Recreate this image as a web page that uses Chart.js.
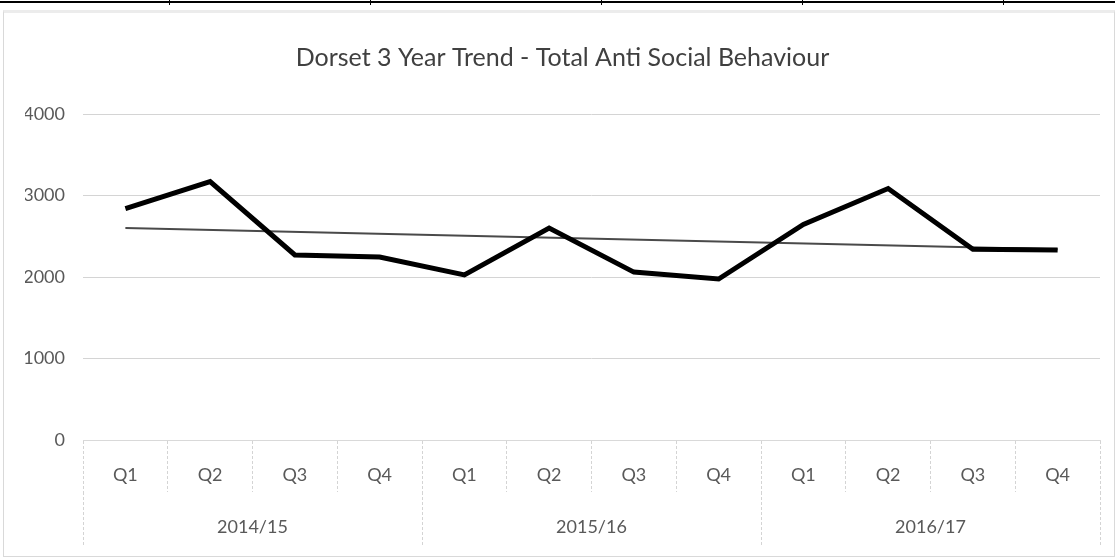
<!DOCTYPE html>
<html lang="en">
<head>
    <meta charset="UTF-8">
    <title>Dorset 3 Year Trend - Total Anti Social Behaviour</title>
    <script src="https://cdn.jsdelivr.net/npm/chart.js"></script>
    <style>
        body { margin: 0; background: #fff; width: 1115px; height: 557px; overflow: hidden; position: relative; }
        .topline { position: absolute; left: 0; top: 1px; width: 1115px; height: 2px; background: #000; }
        .tick { position: absolute; top: 0; width: 1px; height: 5px; background: #000; }
        .frame { position: absolute; left: 3px; top: 10px; width: 1110px; height: 543px; border: 1px solid #d9d9d9; border-top: 3px solid #ececec; }
        canvas { display: block; }
    </style>
</head>
<body>
    <div class="topline"></div>
    <div class="tick" style="left:169px"></div>
    <div class="tick" style="left:370px"></div>
    <div class="tick" style="left:601px"></div>
    <div class="tick" style="left:802px"></div>
    <div class="tick" style="left:1003px"></div>
    <div class="frame"><canvas id="chart" width="1110" height="543"></canvas></div>

    <script>
        // data
        const quarters = ['Q1', 'Q2', 'Q3', 'Q4', 'Q1', 'Q2', 'Q3', 'Q4', 'Q1', 'Q2', 'Q3', 'Q4'];
        const years = ['2014/15', '2015/16', '2016/17'];
        const asbTotals = [2840, 3170, 2270, 2245, 2025, 2600, 2060, 1975, 2645, 3085, 2340, 2330];
        // linear trendline: only its two ends, the library joins them
        const trendEnds = [2600, 2340];
        const yTicks = [0, 1000, 2000, 3000, 4000];

        const trendData = quarters.map(() => null);
        trendData[0] = trendEnds[0];
        trendData[trendData.length - 1] = trendEnds[1];

        const font = 'Lato, Calibri, sans-serif';
        const textCol = '#595959';
        const gridCol = '#d4d4d4';

        new Chart(document.getElementById('chart'), {
            type: 'line',
            data: {
                labels: quarters,
                datasets: [{
                    label: 'Total ASB',
                    data: asbTotals,
                    borderColor: '#000',
                    borderWidth: 5,
                    pointRadius: 0,
                    tension: 0,
                    borderJoinStyle: 'miter',
                    order: 1
                }, {
                    label: 'Linear trend',
                    data: trendData,
                    spanGaps: true,
                    borderColor: '#4a4a4a',
                    borderWidth: 2,
                    pointRadius: 0,
                    order: 2
                }]
            },
            options: {
                responsive: false,
                animation: false,
                layout: { padding: { left: 21, right: 14, top: 0, bottom: 8 } },
                plugins: {
                    legend: { display: false },
                    tooltip: { enabled: false },
                    title: {
                        display: true,
                        text: 'Dorset 3 Year Trend - Total Anti Social Behaviour',
                        color: '#404040',
                        font: { family: font, size: 25, weight: 'normal' },
                        padding: { top: 30, bottom: 41 }
                    }
                },
                scales: {
                    y: {
                        min: 0,
                        max: 4000,
                        afterBuildTicks: (scale) => { scale.ticks = yTicks.map(v => ({ value: v })); },
                        afterFit: (scale) => { scale.width = 58; },
                        border: { display: false },
                        grid: { color: gridCol, borderDash: [3, 2], drawTicks: false },
                        ticks: {
                            color: textCol, padding: 18, font: { family: font, size: 18 },
                            callback: (v) => String(v)
                        }
                    },
                    x: {
                        position: 'bottom',
                        offset: true,
                        border: { display: true, color: '#d9d9d9', width: 1 },
                        grid: {
                            offset: true,
                            drawOnChartArea: false,
                            tickLength: 52,
                            tickColor: gridCol,
                            tickBorderDash: [3, 2]
                        },
                        ticks: { color: textCol, padding: -28, maxRotation: 0, autoSkip: false, font: { family: font, size: 18 } },
                        afterFit: (scale) => { scale.height = 52; }
                    },
                    x2: {
                        type: 'category',
                        labels: years,
                        position: 'bottom',
                        offset: true,
                        border: { display: false },
                        grid: {
                            offset: true,
                            drawOnChartArea: false,
                            tickLength: 54,
                            tickColor: gridCol,
                            tickBorderDash: [3, 2]
                        },
                        ticks: { color: textCol, padding: -30, maxRotation: 0, font: { family: font, size: 18 } },
                        afterFit: (scale) => { scale.height = 56; }
                    }
                }
            }
        });
    </script>
</body>
</html>
